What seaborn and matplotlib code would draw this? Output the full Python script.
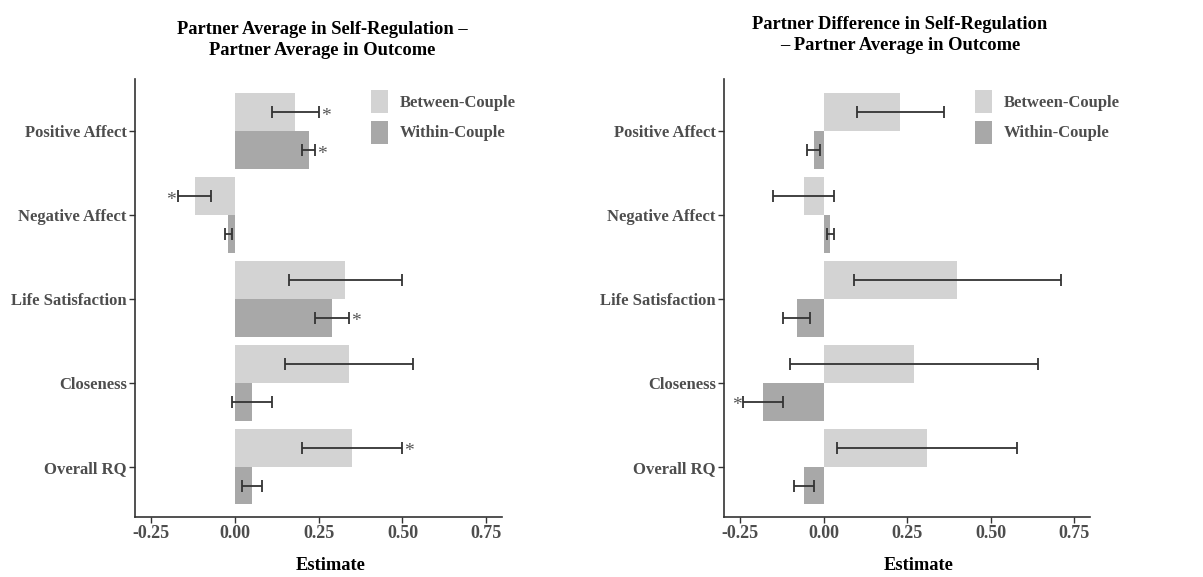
import numpy as np
import pandas as pd
import matplotlib
matplotlib.use("Agg")
import matplotlib.pyplot as plt
import seaborn as sns

categories = ["Positive Affect", "Negative Affect", "Life Satisfaction", "Closeness", "Overall RQ"]
series = ["Between-Couple", "Within-Couple"]
xticks = [-0.25, 0.00, 0.25, 0.50, 0.75]
xtick_labels = ["-0.25", "0.00", "0.25", "0.50", "0.75"]

# Left panel: Partner Average in Self-Regulation - Partner Average in Outcome
left_between = [0.18, -0.12, 0.33, 0.34, 0.35]
left_between_lo = [0.11, -0.17, 0.16, 0.15, 0.20]
left_between_hi = [0.25, -0.07, 0.50, 0.53, 0.50]
left_between_sig = [True, True, False, False, True]
left_within = [0.22, -0.02, 0.29, 0.05, 0.05]
left_within_lo = [0.20, -0.03, 0.24, -0.01, 0.02]
left_within_hi = [0.24, -0.01, 0.34, 0.11, 0.08]
left_within_sig = [True, False, True, False, False]

# Right panel: Partner Difference in Self-Regulation - Partner Average in Outcome
right_between = [0.23, -0.06, 0.40, 0.27, 0.31]
right_between_lo = [0.10, -0.15, 0.09, -0.10, 0.04]
right_between_hi = [0.36, 0.03, 0.71, 0.64, 0.58]
right_between_sig = [False, False, False, False, False]
right_within = [-0.03, 0.02, -0.08, -0.18, -0.06]
right_within_lo = [-0.05, 0.01, -0.12, -0.24, -0.09]
right_within_hi = [-0.01, 0.03, -0.04, -0.12, -0.03]
right_within_sig = [False, False, False, True, False]

titles = ["Partner Average in Self-Regulation \u2013\nPartner Average in Outcome",
          "Partner Difference in Self-Regulation\n\u2013 Partner Average in Outcome"]
xlabel = "Estimate"

sns.set_theme(style="white")
plt.rcParams['font.family'] = ['Liberation Serif', 'DejaVu Serif']

palette = {"Between-Couple": "#d3d3d3", "Within-Couple": "#a8a8a8"}
text_gray = "#4d4d4d"


def build(b, blo, bhi, bs, w, wlo, whi, ws):
    rows = []
    for i, c in enumerate(categories):
        rows.append((c, series[0], b[i], blo[i], bhi[i], bs[i]))
    for i, c in enumerate(categories):
        rows.append((c, series[1], w[i], wlo[i], whi[i], ws[i]))
    return pd.DataFrame(rows, columns=["cat", "grp", "est", "lo", "hi", "sig"])


dfs = [
    build(left_between, left_between_lo, left_between_hi, left_between_sig,
          left_within, left_within_lo, left_within_hi, left_within_sig),
    build(right_between, right_between_lo, right_between_hi, right_between_sig,
          right_within, right_within_lo, right_within_hi, right_within_sig),
]

fig = plt.figure(figsize=(12.03, 5.77), dpi=100)
W, H = 1203, 577
axes_px = [(135, 79, 502, 517), (724, 79, 1090, 517)]
legend_px = [(371, 90), (975, 90)]
title_x = [322, 900]
title_y = [40, 35]
xlabel_x = [331, 919]

for k, df in enumerate(dfs):
    x0, y0, x1, y1 = axes_px[k]
    ax = fig.add_axes([x0 / W, 1 - y1 / H, (x1 - x0) / W, (y1 - y0) / H])
    sns.barplot(data=df, x="est", y="cat", hue="grp", order=categories,
                hue_order=series, palette=palette, orient="h", width=0.9,
                errorbar=None, ax=ax, saturation=1, edgecolor="none")
    # error bars and stars, positioned at the bar centres drawn by seaborn
    for ci, grp in enumerate(series):
        sub = df[df.grp == grp].set_index("cat").loc[categories]
        patches = ax.containers[ci].patches
        for j, p in enumerate(patches):
            yc = p.get_y() + p.get_height() / 2
            lo, hi = sub["lo"].iloc[j], sub["hi"].iloc[j]
            ax.errorbar([(lo + hi) / 2], [yc], xerr=[[(hi - lo) / 2], [(hi - lo) / 2]],
                        fmt="none", ecolor="#333333", elinewidth=1.3, capsize=4.5,
                        capthick=1.3)
            if sub["sig"].iloc[j]:
                if sub["est"].iloc[j] >= 0:
                    ax.text(hi + 0.006, yc + 0.05, "*", ha="left", va="center",
                            fontsize=14, color="#555555")
                else:
                    ax.text(lo - 0.006, yc + 0.05, "*", ha="right", va="center",
                            fontsize=14, color="#555555")
    ax.set_xlim(-0.298, 0.797)
    ax.set_ylim(4.6, -0.62)
    ax.set_xticks(xticks)
    ax.set_xticklabels(xtick_labels)
    ax.set_ylabel("")
    ax.set_xlabel("")
    for s in ["top", "right"]:
        ax.spines[s].set_visible(False)
    for s in ["left", "bottom"]:
        ax.spines[s].set_visible(True)
        ax.spines[s].set_color("#333333")
        ax.spines[s].set_linewidth(1.2)
    ax.tick_params(axis="both", which="both", length=4, width=1, color="#333333",
                   bottom=True, left=True, pad=2)
    for lab in ax.get_xticklabels():
        lab.set_fontweight("bold")
        lab.set_fontsize(13)
        lab.set_color(text_gray)
    for lab in ax.get_yticklabels():
        lab.set_fontweight("bold")
        lab.set_fontsize(12)
        lab.set_color(text_gray)
    ax.grid(False)
    lx, ly = legend_px[k]
    leg = ax.legend(loc="upper left",
                    bbox_to_anchor=((lx - x0) / (x1 - x0), 1 - (ly - y0) / (y1 - y0)),
                    frameon=False, handlelength=1.0, handleheight=1.75,
                    handletextpad=0.7, labelspacing=0.45, borderaxespad=0.0,
                    borderpad=0.0,
                    prop={"family": "Liberation Serif", "weight": "bold", "size": 12})
    for t in leg.get_texts():
        t.set_color(text_gray)
    fig.text(title_x[k] / W, 1 - title_y[k] / H, titles[k], ha="center", va="center",
             fontsize=13.3, fontweight="bold", color="black", linespacing=1.3)
    fig.text(xlabel_x[k] / W, 1 - 565 / H, xlabel, ha="center", va="center",
             fontsize=13.3, fontweight="bold", color="black")

fig.savefig("out.png", dpi=100)
